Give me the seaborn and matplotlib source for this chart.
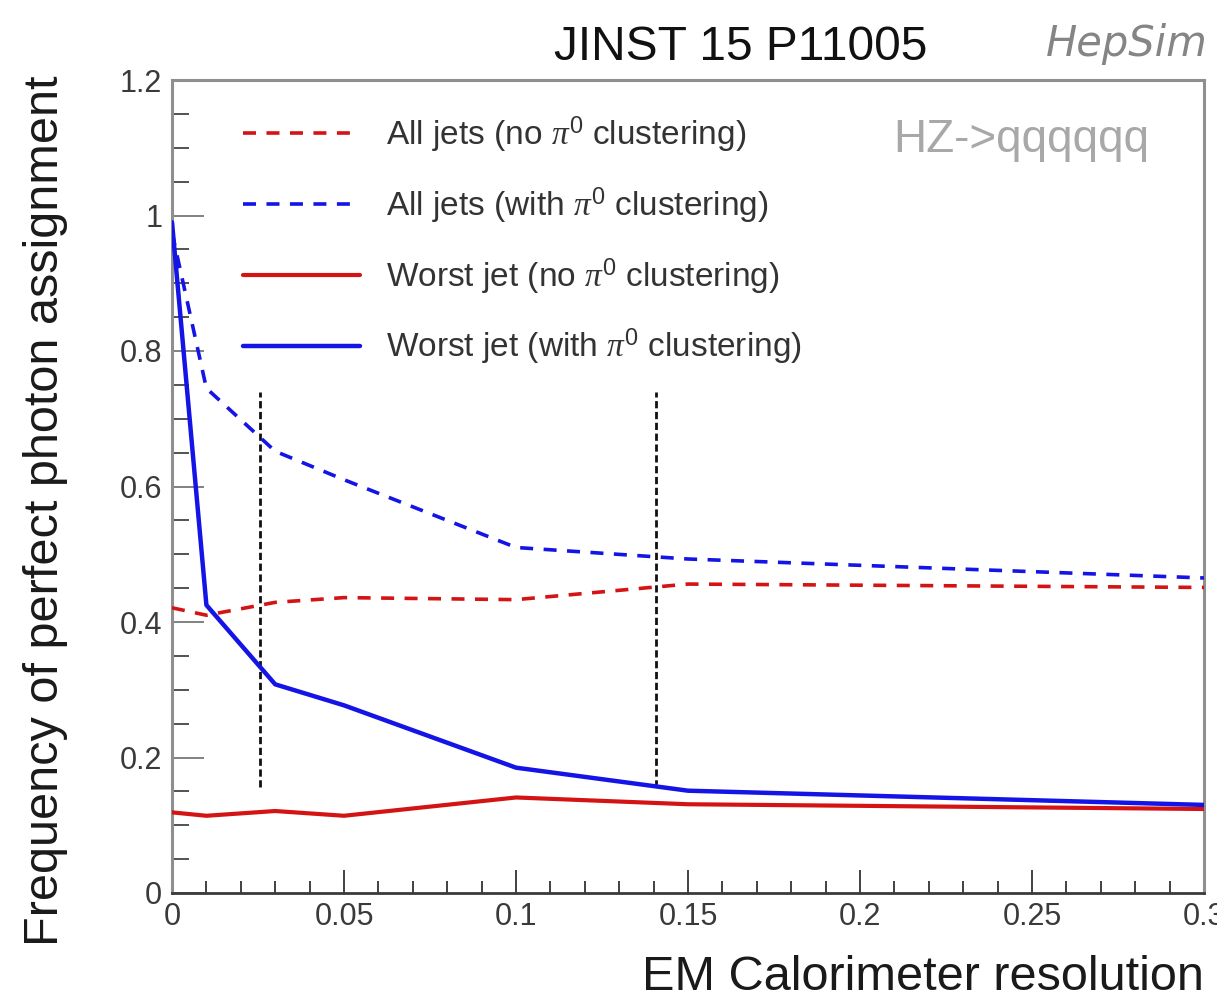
import matplotlib
matplotlib.use("Agg")
import matplotlib.pyplot as plt
import matplotlib.ticker as mticker
import numpy as np
import pandas as pd
import seaborn as sns

# EM calorimeter resolution scan points
resolution = [0.0, 0.01, 0.03, 0.05, 0.10, 0.15, 0.30]

# Frequency of perfect photon assignment
all_jets_no_pi0 = [0.421, 0.410, 0.429, 0.436, 0.433, 0.456, 0.451]
all_jets_with_pi0 = [0.975, 0.745, 0.652, 0.610, 0.510, 0.493, 0.465]
worst_jet_no_pi0 = [0.119, 0.114, 0.121, 0.114, 0.141, 0.131, 0.124]
worst_jet_with_pi0 = [0.990, 0.425, 0.308, 0.277, 0.185, 0.151, 0.130]

series_labels = [
    r"All jets (no $\pi^{0}$ clustering)",
    r"All jets (with $\pi^{0}$ clustering)",
    r"Worst jet (no $\pi^{0}$ clustering)",
    r"Worst jet (with $\pi^{0}$ clustering)",
]

# reference resolutions marked by vertical dashed lines
marker_x = [0.0257, 0.1408]
marker_ymin = [0.157, 0.157]
marker_ymax = [0.740, 0.740]

xticks = [0.0, 0.05, 0.10, 0.15, 0.20, 0.25, 0.30]
xtick_labels = ["0", "0.05", "0.1", "0.15", "0.2", "0.25", "0.3"]
yticks = [0.0, 0.2, 0.4, 0.6, 0.8, 1.0, 1.2]
ytick_labels = ["0", "0.2", "0.4", "0.6", "0.8", "1", "1.2"]

sns.set_style("white")
plt.rcParams["font.family"] = ["Liberation Sans", "DejaVu Sans"]
plt.rcParams["mathtext.fontset"] = "custom"
plt.rcParams["mathtext.rm"] = "Liberation Sans"
plt.rcParams["mathtext.it"] = "Liberation Serif:italic"

fig = plt.figure(figsize=(12.17, 10.02), dpi=100, facecolor="white")
ax = fig.add_axes([172 / 1217, 109 / 1002, 1032 / 1217, 813 / 1002])
ax.set_facecolor("white")

red = "#d41414"
blue = "#1414e6"
dash = (0, (3.6, 2.9))

series = [
    (all_jets_no_pi0, red, dash, 2.6),
    (all_jets_with_pi0, blue, dash, 2.6),
    (worst_jet_no_pi0, red, "-", 3.0),
    (worst_jet_with_pi0, blue, "-", 3.2),
]
for (vals, col, ls, lw), lab in zip(series, series_labels):
    df = pd.DataFrame({"res": resolution, "freq": vals})
    sns.lineplot(data=df, x="res", y="freq", ax=ax, color=col, linestyle=ls,
                 linewidth=lw, label=lab, zorder=3)

ax.vlines(marker_x, marker_ymin, marker_ymax, colors="#111111",
          linestyles=(0, (2.6, 1.3)), linewidth=2.0, zorder=2)

ax.set_xlim(0, 0.3)
ax.set_ylim(0, 1.2)

ax.xaxis.set_major_locator(mticker.FixedLocator(xticks))
ax.xaxis.set_major_formatter(mticker.FixedFormatter(xtick_labels))
ax.xaxis.set_minor_locator(mticker.MultipleLocator(0.01))
ax.yaxis.set_major_locator(mticker.FixedLocator(yticks))
ax.yaxis.set_major_formatter(mticker.FixedFormatter(ytick_labels))
ax.yaxis.set_minor_locator(mticker.MultipleLocator(0.05))

ax.tick_params(axis="x", which="major", direction="in", length=16.5, width=1.3,
               color="#333333", labelsize=22, labelcolor="#3a3a3a", pad=6.5,
               bottom=True, top=False)
ax.tick_params(axis="x", which="minor", direction="in", length=8.5, width=1.3,
               color="#333333", bottom=True, top=False)
ax.tick_params(axis="y", which="major", direction="in", length=23, width=1.3,
               color="#777777", labelsize=22, labelcolor="#3a3a3a", pad=7,
               left=True, right=False)
ax.tick_params(axis="y", which="minor", direction="in", length=12, width=1.3,
               color="#444444", left=True, right=False)

for side in ("left", "top", "right"):
    ax.spines[side].set_color("#8f8f8f")
    ax.spines[side].set_linewidth(2.2)
ax.spines["bottom"].set_color("#3a3a3a")
ax.spines["bottom"].set_linewidth(2.0)

ax.set_xlabel("EM Calorimeter resolution", fontsize=35, color="#1a1a1a",
              ha="right", va="baseline")
ax.xaxis.set_label_coords(1.0, -0.1195)
ax.set_ylabel("Frequency of perfect photon assignment", fontsize=35,
              color="#1a1a1a", ha="right", va="center", rotation_mode="anchor")
ax.yaxis.set_label_coords(-0.123, 1.006)

leg = ax.legend(loc="upper left", bbox_to_anchor=(0.0688, 0.957), frameon=False,
                fontsize=24, handlelength=3.5, handletextpad=0.8,
                labelspacing=0.92, borderpad=0, borderaxespad=0)
for t in leg.get_texts():
    t.set_color("#333333")

ax.text(0.699, 0.926, "HZ->qqqqqq", transform=ax.transAxes, fontsize=33,
        color="#a8a8a8", ha="left", va="center")

fig.text(741 / 1217, 1 - 47 / 1002, "JINST 15 P11005", fontsize=34.5,
         color="#111111", ha="center", va="center")
fig.text(1208 / 1217, 1 - 44 / 1002, "HepSim", fontsize=30, style="italic",
         family="DejaVu Sans", color="#858585", ha="right", va="center")

fig.savefig("out.png", dpi=100, facecolor="white")
